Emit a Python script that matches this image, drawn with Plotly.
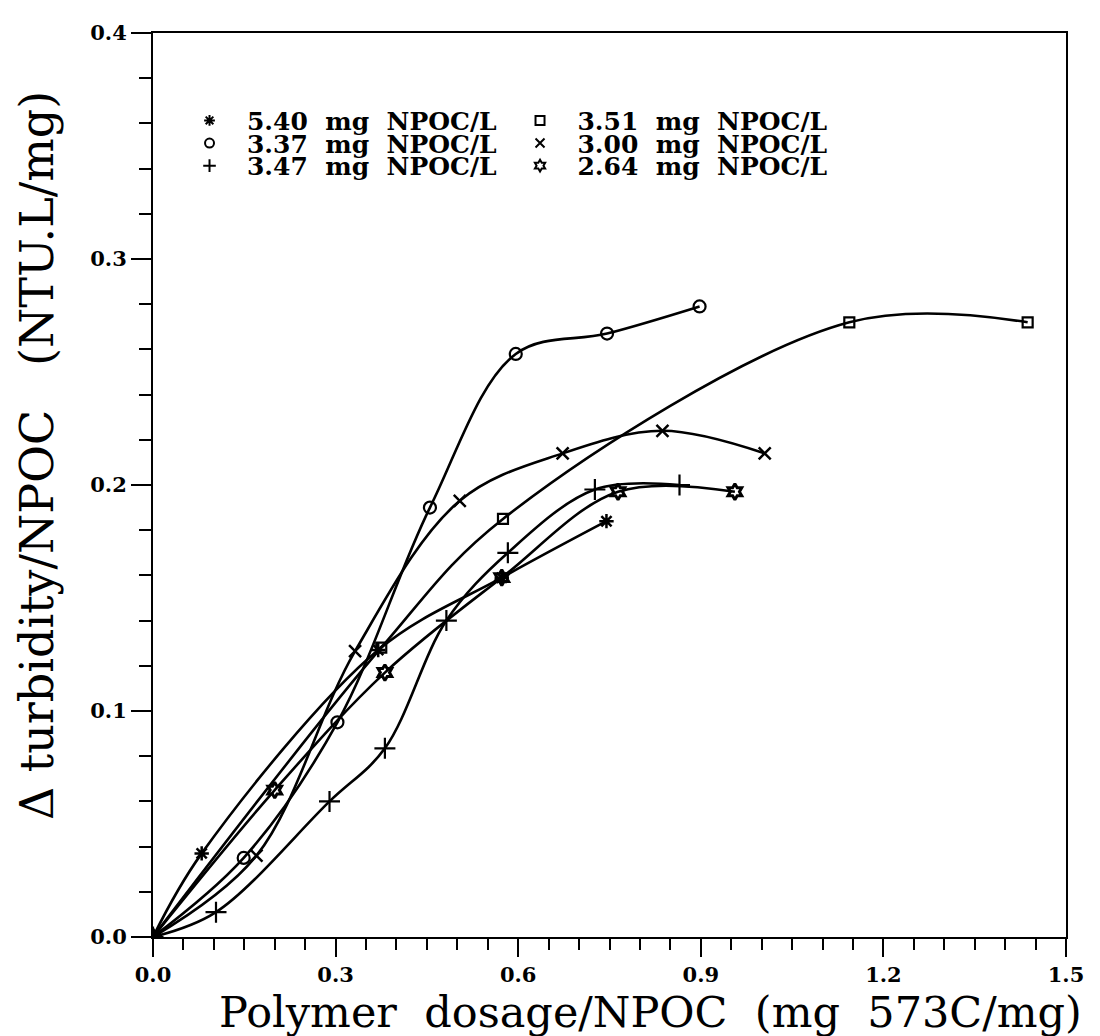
import plotly.graph_objects as go

# ---- data ----
names = ["5.40 mg NPOC/L", "3.37 mg NPOC/L", "3.47 mg NPOC/L",
         "3.51 mg NPOC/L", "3.00 mg NPOC/L", "2.64 mg NPOC/L"]

x_540 = [0, 0.08, 0.370, 0.573, 0.745]
y_540 = [0, 0.037, 0.127, 0.159, 0.184]

x_337 = [0, 0.149, 0.303, 0.455, 0.596, 0.746, 0.898]
y_337 = [0, 0.035, 0.095, 0.190, 0.258, 0.267, 0.279]

x_347 = [0, 0.1035, 0.29, 0.381, 0.482, 0.583, 0.726, 0.865]
y_347 = [0, 0.011, 0.060, 0.0835, 0.140, 0.170, 0.198, 0.200]

x_351 = [0, 0.375, 0.575, 1.144, 1.437]
y_351 = [0, 0.128, 0.185, 0.272, 0.272]

x_300 = [0, 0.170, 0.332, 0.504, 0.673, 0.837, 1.005]
y_300 = [0, 0.036, 0.1265, 0.193, 0.214, 0.224, 0.214]

x_264 = [0, 0.20, 0.381, 0.573, 0.764, 0.956]
y_264 = [0, 0.065, 0.117, 0.159, 0.197, 0.197]

x_ticks = [0.0, 0.3, 0.6, 0.9, 1.2, 1.5]
y_ticks = [0.0, 0.1, 0.2, 0.3, 0.4]

# name, x, y, symbol, size, outline width
series = [
    (names[0], x_540, y_540, "asterisk-open", 12, 2.5),
    (names[1], x_337, y_337, "circle-open", 12, 2.2),
    (names[2], x_347, y_347, "cross-thin-open", 15, 2.2),
    (names[3], x_351, y_351, "square-open", 10, 2.2),
    (names[4], x_300, y_300, "x-thin-open", 12, 2.5),
    (names[5], x_264, y_264, "hexagram-open", 12, 3),
]

fig = go.Figure()
for name, xs, ys, sym, sz, lw in series:
    fig.add_trace(go.Scatter(
        x=xs, y=ys, mode="lines+markers", showlegend=False,
        line=dict(color="black", width=2.6, shape="spline", smoothing=1.0),
        marker=dict(symbol=sym, size=sz, color="black", line=dict(color="black", width=lw)),
    ))

serif = "DejaVu Serif"

# legend: two columns of three rows, one small legend per entry
col_x = [0.040, 0.402]           # paper x of each column's left edge
row_y = [0.903, 0.878, 0.853]    # paper y of each row's centre
placement = {0: (0, 0), 1: (0, 1), 2: (0, 2), 3: (1, 0), 4: (1, 1), 5: (1, 2)}
legend_layouts = {}
for i, (name, xs, ys, sym, sz, lw) in enumerate(series):
    key = "legend" if i == 0 else f"legend{i + 1}"
    c, r = placement[i]
    fig.add_trace(go.Scatter(
        x=[None], y=[None], mode="markers", showlegend=True, legend=key,
        name="\u00a0\u00a0" + name.replace(" ", "\u00a0\u00a0"),
        marker=dict(symbol=sym, size=9, color="black", line=dict(color="black", width=2)),
    ))
    legend_layouts[key] = dict(
        x=col_x[c], y=row_y[r], xanchor="left", yanchor="middle",
        font=dict(family=serif, size=25, color="black", weight="bold"),
        bgcolor="rgba(0,0,0,0)", borderwidth=0, itemwidth=30,
    )

fig.update_layout(
    width=1100, height=1036,
    margin=dict(l=145, r=42, t=20, b=107),
    paper_bgcolor="white", plot_bgcolor="white",
    showlegend=True,
    font=dict(family=serif, color="black"),
    **legend_layouts,
)

fig.update_xaxes(
    range=[0, 1.5], tickvals=x_ticks, ticktext=[f"{v:.1f}" for v in x_ticks],
    showline=True, linecolor="black", linewidth=2, mirror=True,
    ticks="outside", ticklen=18, tickwidth=2, tickcolor="black",
    minor=dict(dtick=0.05, ticks="outside", ticklen=11, tickwidth=2, tickcolor="black"),
    showgrid=False, zeroline=False,
    tickfont=dict(family=serif, size=21, color="black", weight="bold"),
)
fig.update_yaxes(
    range=[0, 0.4], tickvals=y_ticks, ticktext=[f"{v:.1f}" for v in y_ticks],
    showline=True, linecolor="black", linewidth=2, mirror=True,
    ticks="outside", ticklen=20, tickwidth=2, tickcolor="black",
    minor=dict(dtick=0.02, ticks="outside", ticklen=12, tickwidth=2, tickcolor="black"),
    showgrid=False, zeroline=False,
    tickfont=dict(family=serif, size=21, color="black", weight="bold"),
)

fig.add_annotation(
    text="Polymer\u00a0\u00a0dosage/NPOC\u00a0\u00a0(mg\u00a0\u00a0573C/mg)",
    xref="paper", yref="paper", x=0.545, y=-0.113, xanchor="center", yanchor="bottom",
    showarrow=False, font=dict(family=serif, size=43, color="black"),
)
fig.add_annotation(
    text="\u0394\u00a0turbidity/NPOC\u00a0\u00a0\u00a0(NTU.L/mg)",
    xref="paper", yref="paper", x=-0.127, y=0.532, xanchor="center", yanchor="middle",
    textangle=-90, showarrow=False, font=dict(family=serif, size=46, color="black"),
)

fig.write_html("out.html")
